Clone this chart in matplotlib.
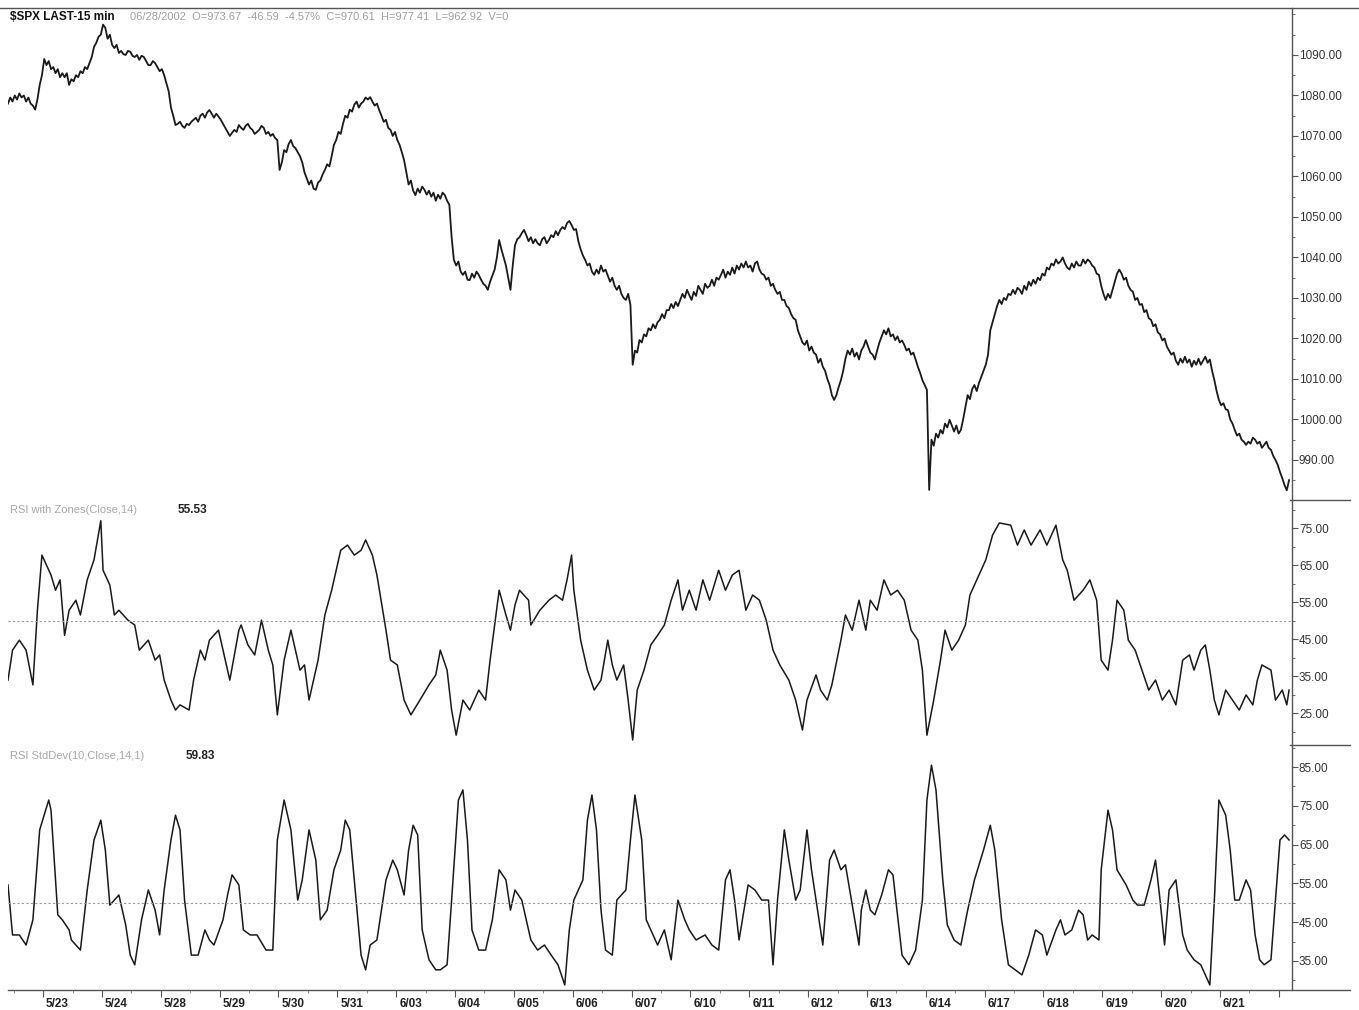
import matplotlib.pyplot as plt
from matplotlib.lines import Line2D
from matplotlib.ticker import MultipleLocator, FormatStrFormatter
from matplotlib.transforms import ScaledTranslation

# S&P 500 close, one value per 15-minute bar (26 bars a session)
price_val = [
    # 5/22 (last bars)
    1078, 1079.5, 1078.5, 1080, 1079, 1080.5, 1079.5, 1080, 1078.5, 1079.5, 1078, 1077.5, 1076.5, 1079, 1082.6, 1085,
    # 5/23
    1089, 1087.5, 1088.5, 1086.5, 1087, 1085.5, 1086.5, 1084.5, 1085.5, 1084.5, 1085.5, 1082.6, 1084,
    1083.5, 1085, 1084.5, 1086, 1085.5, 1087, 1086.5, 1088, 1089.5, 1092, 1093, 1094.5, 1095,
    # 5/24
    1097.5, 1096.7, 1094, 1095, 1092.5, 1091.7, 1092.5, 1090.5, 1091, 1090.2, 1090, 1091, 1090.8,
    1089.8, 1089.5, 1090, 1088.8, 1089.8, 1089.5, 1088.5, 1087.5, 1087.5, 1088.5, 1088, 1087, 1086,
    # 5/28
    1086.5, 1085, 1083, 1081, 1077, 1075, 1072.7, 1073, 1073.5, 1072.5, 1072, 1073, 1072.7,
    1073.5, 1074, 1074.5, 1073.5, 1075, 1075.5, 1074.5, 1075.8, 1076.4, 1075.5, 1074.5, 1075.5, 1074.8,
    # 5/29
    1074, 1073, 1072, 1071, 1070, 1070.8, 1071.5, 1071, 1072.7, 1072, 1071.5, 1072.5, 1073,
    1072, 1071.5, 1070.5, 1071, 1071.5, 1072.5, 1072, 1070.5, 1071, 1070, 1070.5, 1069.5, 1069,
    # 5/30
    1061.6, 1063.5, 1066.5, 1066, 1068, 1069, 1067.5, 1067, 1066, 1065, 1063.5, 1061, 1059.5,
    1058, 1059, 1057, 1056.7, 1058.5, 1059, 1060.5, 1061.6, 1063, 1062.5, 1065, 1067.8, 1069,
    # 5/31
    1071, 1070.5, 1073, 1075, 1074.5, 1076.5, 1076, 1077.7, 1078.5, 1077, 1078, 1078.5, 1079.5,
    1079, 1079.6, 1078.5, 1077.5, 1078, 1076.4, 1075, 1073.5, 1074, 1072, 1071.5, 1070, 1071,
    # 6/03
    1069, 1067.8, 1066, 1064, 1061, 1058, 1059, 1056.5, 1055.4, 1057, 1056, 1057.5, 1056.7,
    1055.5, 1056.5, 1055, 1056, 1054, 1055.5, 1054.5, 1056, 1055.4, 1054, 1053, 1045, 1039.4,
    # 6/04
    1038, 1039, 1036.5, 1035.7, 1036.5, 1034.5, 1034.4, 1036, 1035, 1036.5, 1035.7, 1034.5, 1033.5,
    1033, 1032, 1034, 1035.5, 1037, 1040, 1044.3, 1042, 1040, 1038, 1035, 1032, 1038,
    # 6/05
    1043, 1044.5, 1045, 1046, 1046.8, 1045.5, 1044, 1045, 1043.5, 1044.5, 1043.5, 1043, 1044.5,
    1045, 1043.5, 1044.3, 1045.5, 1045, 1046.5, 1045.5, 1046.8, 1047.5, 1047, 1048.5, 1049, 1048,
    # 6/06
    1046.8, 1047, 1044, 1042, 1040.5, 1039.4, 1038, 1038.5, 1036.5, 1035.7, 1037, 1036, 1038,
    1036.5, 1037, 1035.5, 1034, 1035, 1033, 1032, 1033, 1031, 1030, 1029.5, 1031, 1028.3,
    # 6/07
    1013.5, 1017, 1016.5, 1019.6, 1019, 1021, 1020.5, 1022.5, 1022, 1023.5, 1022.5, 1024, 1024.6,
    1026, 1025, 1027, 1027, 1028.5, 1027.5, 1029, 1028, 1029.5, 1031, 1030, 1032, 1030.7,
    # 6/10
    1029.5, 1031.5, 1030.5, 1033, 1032, 1031, 1033.5, 1032.5, 1033, 1034.5, 1033, 1035, 1034.5,
    1035.7, 1037, 1035, 1036.5, 1035.7, 1037.5, 1036, 1038, 1037, 1038.5, 1037.5, 1039, 1037.5,
    # 6/11
    1038, 1036.5, 1038.5, 1039, 1037, 1036, 1035.7, 1034.5, 1035, 1033, 1033.5, 1032, 1031,
    1031.5, 1029.5, 1029.5, 1028, 1027.5, 1026, 1025, 1024.6, 1022, 1020.5, 1019, 1018.4, 1019.5,
    # 6/12
    1017, 1018, 1016.5, 1016, 1014, 1015, 1013, 1012, 1010, 1008.5, 1006, 1004.8, 1006,
    1008, 1009.7, 1012, 1015, 1017, 1016, 1017.5, 1015.5, 1016.5, 1014.8, 1017, 1018, 1019.6,
    # 6/13
    1018, 1016.5, 1016, 1014.8, 1017, 1019, 1020.5, 1022, 1021, 1022.5, 1020.5, 1021, 1019.6,
    1020.5, 1019, 1019.5, 1018.4, 1017, 1017.5, 1016, 1016.5, 1014.8, 1013, 1011.5, 1009.7, 1008.5,
    # 6/14
    1007.3, 982.6, 995, 993.5, 996.5, 995.5, 997.4, 996.5, 999, 998, 999.9, 998.5, 997,
    998.5, 996.5, 997.4, 1000, 1003, 1006, 1005, 1007.5, 1008.5, 1007, 1009, 1010.5, 1012,
    # 6/17
    1013.5, 1016, 1022, 1024, 1026, 1028, 1029.5, 1028.5, 1030, 1029.5, 1031, 1030.7, 1032,
    1031, 1032.5, 1032, 1031, 1033, 1032, 1034, 1033, 1034.5, 1033.5, 1035, 1034.4, 1036,
    # 6/18
    1035.5, 1037.5, 1037, 1038.5, 1038, 1039.5, 1038.5, 1039, 1040, 1038.5, 1037.5, 1037, 1038.5,
    1037.5, 1039, 1038, 1038, 1039.5, 1038.5, 1039.5, 1039, 1038, 1037.5, 1036, 1035.7, 1033,
    # 6/19
    1031, 1029.5, 1031, 1030, 1032, 1034, 1036, 1037, 1036, 1034.5, 1035, 1033, 1032,
    1031.5, 1029.5, 1030, 1028.3, 1028.5, 1026.5, 1027, 1025, 1024.6, 1023, 1023.5, 1021.5, 1021,
    # 6/20
    1019.5, 1020, 1018, 1017, 1016, 1016.5, 1014.5, 1013.5, 1015, 1014, 1015.5, 1014, 1014.8,
    1013, 1014.5, 1013.5, 1015, 1013.5, 1014.5, 1015.5, 1014, 1014.8, 1012, 1009.7, 1007, 1004.8,
    # 6/21
    1003.5, 1004, 1002.5, 1002.3, 1000, 999, 997.4, 996, 996.5, 995, 994.5, 993.7, 994.5,
    994, 995.5, 995, 994, 994.5, 993, 993.7, 994.5, 993, 992.5, 991, 990, 988.8,
    # 6/24 (first bars)
    987, 985.5, 983.8, 982.5, 985,
]
price_bar = list(range(len(price_val)))

# RSI with Zones(Close,14)
rsi_bar = [0, 2, 5, 8, 11, 13, 15, 19, 21, 23, 25, 27, 30, 32, 35, 38, 41, 42, 45, 47,
           49, 53, 56, 58, 62, 65, 67, 69, 72, 74, 76, 80, 82, 85, 87, 89, 93, 96, 98, 102,
           103, 106, 109, 112, 115, 117, 119, 122, 125, 127, 129, 131, 133, 137, 140, 143, 147, 150, 153, 156,
           158, 161, 163, 167, 169, 172, 175, 178, 182, 186, 189, 191, 194, 196, 198, 201, 204, 208, 211, 213,
           215, 217, 220, 222, 224, 226, 230, 231, 235, 239, 242, 245, 247, 249, 250, 253, 256, 259, 262, 265,
           267, 269, 272, 274, 276, 278, 281, 284, 287, 290, 293, 296, 298, 301, 304, 307, 310, 314, 317, 320,
           323, 326, 329, 332, 335, 338, 341, 345, 348, 351, 353, 357, 359, 362, 364, 368, 370, 373, 376, 379,
           381, 384, 387, 390, 393, 396, 399, 402, 404, 406, 409, 412, 414, 417, 420, 423, 425, 429, 432, 435,
           438, 443, 446, 449, 452, 456, 459, 463, 466, 468, 471, 475, 478, 481, 483, 486, 488, 490, 493, 495,
           498, 501, 504, 507, 510, 513, 516, 519, 522, 524, 527, 529, 531, 533, 535, 538, 541, 544, 547, 550,
           552, 554, 558, 560, 563, 565, 566]
rsi_val = [33.9, 42, 44.7, 42, 32.6, 52.8, 67.7, 62.3, 58.2, 61, 46, 52.8, 55.5, 51.5, 61, 66.4, 77, 63.6, 59.6, 51.5,
           52.8, 50.1, 48.8, 42, 44.7, 39.3, 40.7, 33.9, 28.5, 25.8, 27.2, 25.8, 33.9, 42, 39.3, 44.7, 47.4, 39.3, 33.9, 47.4,
           48.8, 43.4, 40.7, 50.1, 42, 38, 24.5, 39.3, 47.4, 42, 36.6, 38, 28.5, 39.3, 51.5, 58.2, 69, 70.4, 67.7, 69,
           71.8, 67.7, 62.3, 47.4, 39.3, 38, 28.5, 24.5, 28.5, 32.6, 35.3, 42, 36.6, 25.8, 19, 28.5, 25.8, 31.2, 28.5, 39.3,
           48.8, 58.2, 51.5, 47.4, 54.2, 58.2, 55.5, 48.8, 52.8, 55.5, 56.9, 55.5, 61, 67.7, 58.2, 44.7, 36.6, 31.2, 33.9, 44.7,
           38, 33.9, 38, 28.5, 17.7, 31.2, 36.6, 43.4, 46, 48.8, 55.5, 61, 52.8, 58.2, 52.8, 61, 55.5, 63.6, 58.2, 62.3,
           63.6, 52.8, 56.9, 55.5, 50.1, 42, 38, 33.9, 28.5, 20.4, 28.5, 35.3, 31.2, 28.5, 32.6, 44.7, 51.5, 47.4, 55.5, 47.4,
           55.5, 52.8, 61, 56.9, 58.2, 55.5, 47.4, 44.7, 36.6, 19, 28.5, 39.3, 47.4, 42, 44.7, 48.8, 56.9, 62.3, 66.4, 73.1,
           76.4, 75.8, 70.4, 74.5, 70.4, 74.5, 70.4, 75.8, 66.4, 63.6, 55.5, 58.2, 61, 55.5, 39.3, 36.6, 44.7, 55.5, 52.8, 44.7,
           42, 36.6, 31.2, 33.9, 28.5, 31.2, 27.2, 39.3, 40.7, 36.6, 42, 43.4, 36.6, 28.5, 24.5, 31.2, 28.5, 25.8, 29.9, 27.2,
           33.9, 38, 36.6, 28.5, 31.2, 27.2, 31.2]

# RSI StdDev(10,Close,14,1)
sd_bar = [0, 2, 5, 8, 11, 14, 18, 19, 22, 24, 27, 28, 32, 35, 38, 41, 43, 45, 49, 52,
          54, 56, 59, 62, 65, 67, 69, 72, 74, 76, 78, 81, 84, 87, 89, 91, 95, 97, 99, 102,
          104, 107, 110, 114, 117, 119, 122, 125, 128, 130, 133, 136, 138, 141, 144, 147, 149, 151, 153, 156,
          158, 160, 163, 167, 170, 172, 175, 177, 179, 181, 183, 186, 189, 191, 194, 196, 199, 201, 203, 205,
          208, 211, 214, 217, 220, 222, 224, 227, 231, 234, 237, 240, 243, 246, 248, 250, 254, 256, 258, 260,
          262, 264, 267, 269, 273, 275, 277, 280, 282, 285, 287, 290, 293, 296, 299, 301, 304, 308, 311, 314,
          317, 319, 321, 323, 327, 330, 333, 336, 338, 340, 343, 345, 348, 350, 353, 355, 358, 360, 363, 365,
          368, 370, 373, 376, 377, 379, 381, 383, 386, 389, 391, 393, 395, 398, 401, 404, 406, 408, 410, 413,
          415, 418, 421, 424, 427, 431, 434, 436, 439, 442, 445, 448, 451, 454, 457, 459, 463, 465, 467, 470,
          473, 475, 477, 479, 482, 483, 486, 488, 490, 494, 497, 499, 502, 505, 507, 509, 511, 513, 516, 519,
          521, 524, 527, 529, 531, 533, 535, 538, 540, 542, 544, 547, 549, 551, 553, 555, 558, 560, 562, 564,
          566]
sd_val = [54.6, 41.7, 41.7, 39.1, 45.6, 68.8, 76.5, 73.9, 46.9, 45.6, 43, 40.4, 37.8, 53.3, 66.2, 71.3, 63.6, 49.4, 52, 44.3,
          36.5, 34, 45.6, 53.3, 48.1, 41.7, 53.3, 66.2, 72.6, 68.8, 50.7, 36.5, 36.5, 43, 40.4, 39.1, 45.6, 52, 57.2, 54.6,
          43, 41.7, 41.7, 37.8, 37.8, 66.2, 76.5, 68.8, 50.7, 55.9, 68.8, 61, 45.6, 48.1, 58.5, 63.6, 71.3, 68.8, 55.9, 36.5,
          32.7, 39.1, 40.4, 55.9, 61, 58.5, 52, 63.6, 70, 67.5, 43, 35.3, 32.7, 32.7, 34, 50.7, 76.5, 79.1, 66.2, 43,
          37.8, 37.8, 45.6, 58.5, 55.9, 48.1, 53.3, 50.7, 40.4, 37.8, 39.1, 36.5, 34, 28.8, 43, 50.7, 55.9, 71.3, 77.8, 68.8,
          48.1, 37.8, 36.5, 50.7, 53.3, 66.2, 77.8, 66.2, 45.6, 41.7, 39.1, 43, 35.3, 50.7, 45.6, 43, 40.4, 41.7, 39.1, 37.8,
          55.9, 58.5, 50.7, 40.4, 54.6, 53.3, 50.7, 50.7, 34, 50.7, 68.8, 61, 50.7, 53.3, 68.8, 58.5, 46.9, 39.1, 61, 63.6,
          58.5, 59.8, 49.4, 39.1, 48.1, 53.3, 48.1, 46.9, 52, 58.5, 57.2, 46.9, 36.5, 34, 37.8, 50.7, 76.5, 85.5, 79.1, 55.9,
          44.3, 40.4, 39.1, 48.1, 55.9, 63.6, 70, 63.6, 45.6, 34, 32.7, 31.4, 36.5, 43, 41.7, 36.5, 43, 45.6, 41.7, 43,
          48.1, 46.9, 40.4, 41.7, 40.4, 58.5, 73.9, 68.8, 58.5, 54.6, 50.7, 49.4, 49.4, 55.9, 61, 50.7, 39.1, 53.3, 55.9, 41.7,
          37.8, 35.3, 34, 31.4, 28.8, 50.7, 76.5, 72.6, 63.6, 50.7, 50.7, 55.9, 53.3, 41.7, 35.3, 34, 35.3, 50.7, 66.2, 67.5,
          66.2]

day_labels = ['5/23', '5/24', '5/28', '5/29', '5/30', '5/31', '6/03', '6/04', '6/05', '6/06', '6/07',
              '6/10', '6/11', '6/12', '6/13', '6/14', '6/17', '6/18', '6/19', '6/20', '6/21']
bars_per_day = 26
first_open = 15.5   # bar position of the 5/23 open

price_ticks = list(range(990, 1091, 10))
rsi_ticks = list(range(25, 76, 10))
sd_ticks = list(range(35, 86, 10))

plt.rcParams['font.family'] = ['Liberation Sans', 'DejaVu Sans']

W, H = 1359, 1010
fig = plt.figure(figsize=(W / 100, H / 100), dpi=100)
left, right = 8 / W, 1292 / W
ax1 = fig.add_axes([left, 1 - 500 / H, right - left, 492 / H])
ax2 = fig.add_axes([left, 1 - 745 / H, right - left, 245 / H])
ax3 = fig.add_axes([left, 1 - 990 / H, right - left, 245 / H])

ink = '#1a1a1a'
ax1.plot(price_bar, price_val, color=ink, lw=1.3)
ax2.plot(rsi_bar, rsi_val, color=ink, lw=1.1)
ax3.plot(sd_bar, sd_val, color=ink, lw=1.1)

for ax in (ax2, ax3):
    ax.axhline(50, color='#9a9a9a', lw=0.8, ls=(0, (2, 2)))

ax1.set_yticks(price_ticks)
ax2.set_yticks(rsi_ticks)
ax3.set_yticks(sd_ticks)
for ax in (ax1, ax2, ax3):
    ax.yaxis.set_minor_locator(MultipleLocator(5))

ax1.set_ylim(980.1, 1101.6)
ax2.set_ylim(16.35, 82.6)
ax3.set_ylim(27.5, 90.7)

day_ticks = [first_open + bars_per_day * k for k in range(len(day_labels) + 1)]
mid_ticks = [first_open - bars_per_day / 2 + bars_per_day * k for k in range(len(day_labels) + 2)]

xmax = 567.3
for ax in (ax1, ax2, ax3):
    ax.set_xlim(0, xmax)
    ax.yaxis.tick_right()
    ax.yaxis.set_major_formatter(FormatStrFormatter('%.2f'))
    ax.tick_params(axis='y', which='major', direction='out', length=4, width=0.8,
                   pad=1, labelsize=8.5, labelcolor='#333333', color='#555555')
    ax.tick_params(axis='y', which='minor', direction='out', length=2, width=0.6, color='#555555')
    for s in ('left', 'top', 'bottom'):
        ax.spines[s].set_visible(False)
    ax.spines['right'].set_color('#555555')
    ax.spines['right'].set_linewidth(1.0)
    ax.patch.set_alpha(0)

for ax in (ax1, ax2):
    ax.set_xticks([])

ax3.set_xticks(day_ticks)
ax3.set_xticklabels(day_labels + [''])
ax3.set_xticks(mid_ticks, minor=True)
ax3.set_xlim(0, xmax)
ax3.tick_params(axis='x', which='major', direction='out', length=5, width=0.8,
                pad=1, labelsize=8.5, color='#555555')
ax3.tick_params(axis='x', which='minor', direction='out', length=2, width=0.6, color='#777777')
shift = ScaledTranslation(3 / 100, 0, fig.dpi_scale_trans)
for lab in ax3.get_xticklabels():
    lab.set_horizontalalignment('left')
    lab.set_fontweight('bold')
    lab.set_color('#222222')
    lab.set_transform(lab.get_transform() + shift)

# frame lines: full-width top rule, axis-area separators, bottom axis line
fig.add_artist(Line2D([0, 1], [1 - 8 / H] * 2, color='#555555', lw=1.0))
fig.add_artist(Line2D([1290 / W, 1350 / W], [1 - 500 / H] * 2, color='#555555', lw=1.0))
fig.add_artist(Line2D([1290 / W, 1350 / W], [1 - 745 / H] * 2, color='#555555', lw=1.0))
fig.add_artist(Line2D([left, 1350 / W], [1 - 990 / H] * 2, color='#555555', lw=1.0))

# panel captions
fig.text(10 / W, 1 - 17 / H, '$SPX LAST-15 min', fontsize=8.5, fontweight='bold',
         color='#111111', va='center')
fig.text(130 / W, 1 - 17 / H, '06/28/2002  O=973.67  -46.59  -4.57%  C=970.61  H=977.41  L=962.92  V=0',
         fontsize=8, color='#a0a0a0', va='center')
fig.text(10 / W, 1 - 510 / H, 'RSI with Zones(Close,14)', fontsize=8, color='#a8a8a8', va='center')
fig.text(178 / W, 1 - 510 / H, '55.53', fontsize=8.5, fontweight='bold', color='#222222', va='center')
fig.text(10 / W, 1 - 756 / H, 'RSI StdDev(10,Close,14,1)', fontsize=8, color='#a8a8a8', va='center')
fig.text(186 / W, 1 - 756 / H, '59.83', fontsize=8.5, fontweight='bold', color='#222222', va='center')

fig.savefig('out.png', dpi=100, facecolor='white')
